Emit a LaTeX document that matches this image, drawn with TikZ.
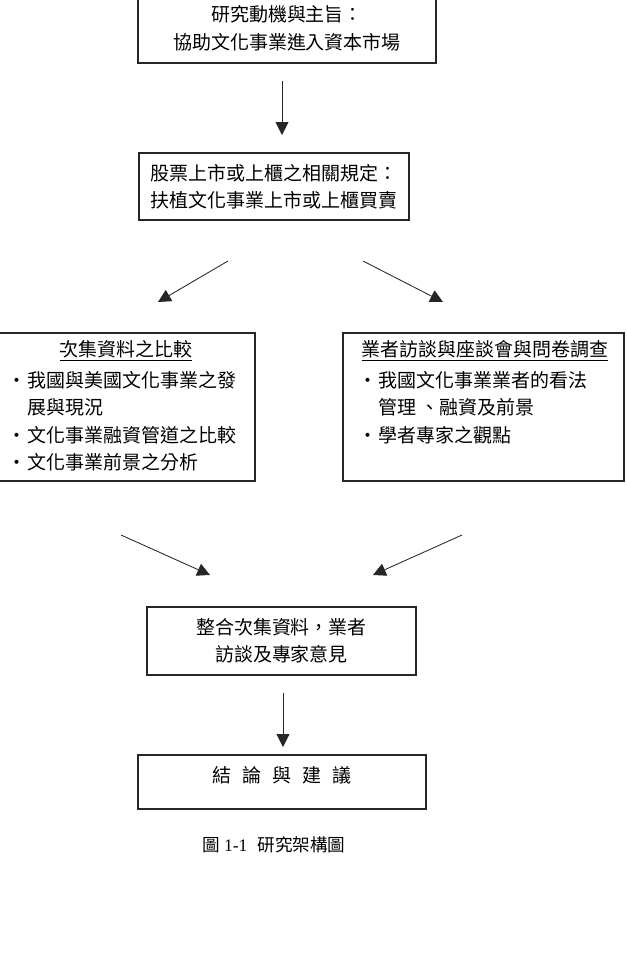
\documentclass[tikz,border=0pt]{standalone}
\usepackage{fontspec}
\setmainfont{Noto Sans CJK TC}
\newfontfamily\numfont{Liberation Serif}
\usetikzlibrary{arrows.meta,positioning}
\tikzset{
    %Define standard arrow tip
    >={Triangle[length=3.2mm,width=3.2mm]},
    %Define style for boxes
    frame/.style={
           rectangle,
           draw=black!85, line width=0.8pt,
           inner sep=0pt,
           font=\fontsize{13.5}{19.5}\selectfont},
    listing/.style={
           inner sep=0pt,
           align=left,
           font=\fontsize{13.5}{19.5}\selectfont},
    % Define arrow style
    flow/.style={
           ->,
           line width=0.6pt,
           draw=black!85}
}
\newcommand{\bul}{\makebox[0.5cm][l]{·}}
\newcommand{\ind}{\hspace*{0.5cm}}

\begin{document}
\begin{tikzpicture}[x=0.025cm,y=-0.025cm]
\useasboundingbox (0,0) rectangle (626,974);
% boxes
\node[frame, minimum width=7.45cm, minimum height=1.725cm, align=center]
    (motive) at (287,28.5) {研究動機與主旨：\\協助文化事業進入資本市場};
\node[frame, minimum width=6.75cm, minimum height=1.675cm,
    text width=6.15cm, inner xsep=0.3cm, align=left]
    (rules) at (274,186.5) {股票上市或上櫃之相關規定：\\扶植文化事業上市或上櫃買賣};
\node[frame, minimum width=6.4cm, minimum height=3.7cm] (second) at (127,407) {};
\node[frame, minimum width=7.025cm, minimum height=3.7cm] (talks) at (483.5,407) {};
\node[frame, minimum width=6.725cm, minimum height=1.7cm, align=center]
    (merge) at (281.5,641) {整合次集資料，業者\\訪談及專家意見};
\node[frame, minimum width=7.2cm, minimum height=1.35cm] (result) at (282,782) {};
% texts inside the two big boxes
\node[listing] (secondtitle) at (126,351) {\underline{次集資料之比較}};
\node[listing, anchor=north west] (secondlist) at (7,371)
    {\bul 我國與美國文化事業之發\\ \ind 展與現況\\ \bul 文化事業融資管道之比較\\ \bul 文化事業前景之分析};
\node[listing] (talkstitle) at (485,351) {\underline{業者訪談與座談會與問卷調查}};
\node[listing, anchor=north west] (talkslist) at (358,371)
    {\bul 我國文化事業業者的看法\\ \ind 管理 、融資及前景\\ \bul 學者專家之觀點};
\node[listing] (resulttext) at (282,775)
    {結\hspace{0.27cm}論\hspace{0.27cm}與\hspace{0.27cm}建\hspace{0.27cm}議};
\node[listing, font=\fontsize{12.5}{15}\selectfont] (caption) at (274,845)
    {圖 {\numfont 1-1}\hspace{0.25cm}研究架構圖};
% arrow ends
\coordinate (a1) at (282,81);   \coordinate (b1) at (282,135);
\coordinate (a2) at (228,261);  \coordinate (b2) at (158,302);
\coordinate (a3) at (363,261);  \coordinate (b3) at (443,302);
\coordinate (a4) at (121,535);  \coordinate (b4) at (210,575);
\coordinate (a5) at (462,535);  \coordinate (b5) at (373,575);
\coordinate (a6) at (283,693);  \coordinate (b6) at (283,747);
\foreach \i in {1,...,6}
    \draw[flow] (a\i) -- (b\i);
\end{tikzpicture}
\end{document}
